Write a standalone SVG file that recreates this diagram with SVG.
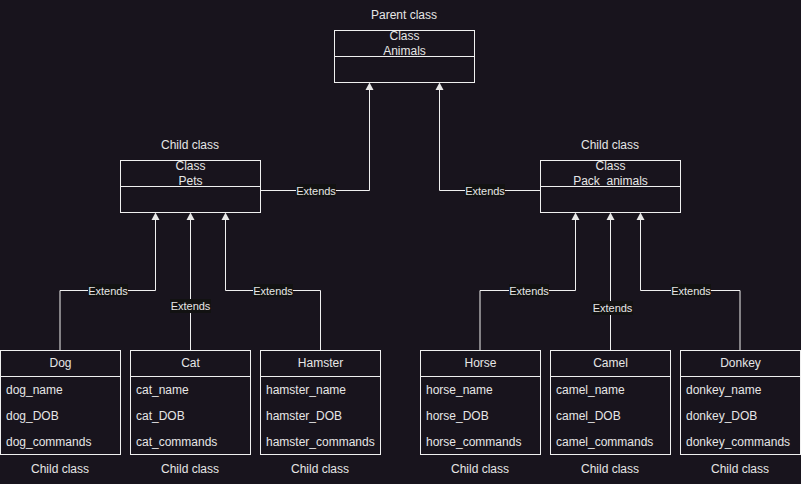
<svg xmlns="http://www.w3.org/2000/svg" width="801" height="484" viewBox="0 0 801 484">
<style>
.bg{fill:#18141d}
.box{fill:#18141d;stroke:#f0f0f0;stroke-width:1}
.t{font-family:"Liberation Sans",Arial,sans-serif;font-size:12px;fill:#e6e6e6}
.c{text-anchor:middle}
.edge{fill:none;stroke:#f0f0f0;stroke-width:1}
.lblbg{fill:#121212}
.lbl{font-family:"Liberation Sans",Arial,sans-serif;font-size:11px;fill:#e6e6e6;text-anchor:middle}
.arr{fill:#e8e8e8}
</style>
<rect class="bg" x="0" y="0" width="801" height="484"/>

<g id="connectors">
<path class="edge" d="M260.5,190.5 H369.5 V90"/>
<path class="arr" d="M365.5,90 L369.5,82.5 L373.5,90 Z"/>
<rect class="lblbg" x="296" y="184" width="40" height="13"/>
<text class="lbl" x="316" y="194.5">Extends</text>

<path class="edge" d="M540.5,190.5 H439.5 V90"/>
<path class="arr" d="M435.5,90 L439.5,82.5 L443.5,90 Z"/>
<rect class="lblbg" x="465" y="184" width="40" height="13"/>
<text class="lbl" x="485" y="194.5">Extends</text>

<path class="edge" d="M60,350 V290.5 H155.5 V220"/>
<path class="arr" d="M151.5,220 L155.5,212.5 L159.5,220 Z"/>
<rect class="lblbg" x="88" y="284" width="40" height="13"/>
<text class="lbl" x="108" y="295">Extends</text>

<path class="edge" d="M190.5,350 V220"/>
<path class="arr" d="M186.5,220 L190.5,212.5 L194.5,220 Z"/>
<rect class="lblbg" x="170" y="299" width="41" height="14"/>
<text class="lbl" x="190.5" y="310">Extends</text>

<path class="edge" d="M320.5,350 V290.5 H225.5 V220"/>
<path class="arr" d="M221.5,220 L225.5,212.5 L229.5,220 Z"/>
<rect class="lblbg" x="253" y="284" width="40" height="13"/>
<text class="lbl" x="273" y="295">Extends</text>

<path class="edge" d="M480,350 V290.5 H575.5 V220"/>
<path class="arr" d="M571.5,220 L575.5,212.5 L579.5,220 Z"/>
<rect class="lblbg" x="509" y="284" width="40" height="13"/>
<text class="lbl" x="529" y="295">Extends</text>

<path class="edge" d="M610.5,350 V220"/>
<path class="arr" d="M606.5,220 L610.5,212.5 L614.5,220 Z"/>
<rect class="lblbg" x="592" y="301" width="41" height="14"/>
<text class="lbl" x="612.5" y="312">Extends</text>

<path class="edge" d="M740,350 V290.5 H640.5 V220"/>
<path class="arr" d="M636.5,220 L640.5,212.5 L644.5,220 Z"/>
<rect class="lblbg" x="671" y="284" width="40" height="13"/>
<text class="lbl" x="691" y="295">Extends</text>
</g>

<g id="animals">
<text class="t c" x="404" y="19">Parent class</text>
<rect class="box" x="334.5" y="30.5" width="140" height="52"/>
<line class="edge" x1="334.5" y1="56.5" x2="474.5" y2="56.5"/>
<text class="t c" x="404.5" y="40">Class</text>
<text class="t c" x="404.5" y="55">Animals</text>
</g>

<g id="pets">
<text class="t c" x="190" y="149">Child class</text>
<rect class="box" x="120.5" y="160.5" width="140" height="52"/>
<line class="edge" x1="120.5" y1="186.5" x2="260.5" y2="186.5"/>
<text class="t c" x="190.5" y="170">Class</text>
<text class="t c" x="190.5" y="185">Pets</text>
</g>

<g id="pack_animals">
<text class="t c" x="610" y="149">Child class</text>
<rect class="box" x="540.5" y="160.5" width="140" height="52"/>
<line class="edge" x1="540.5" y1="186.5" x2="680.5" y2="186.5"/>
<text class="t c" x="610.5" y="170">Class</text>
<text class="t c" x="610.5" y="185">Pack&#160; animals</text>
</g>

<g id="dog">
<rect class="box" x="0.5" y="350.5" width="120" height="104"/>
<line class="edge" x1="0.5" y1="376.5" x2="120.5" y2="376.5"/>
<text class="t c" x="60.5" y="367">Dog</text>
<text class="t" x="6" y="394">dog_name</text>
<text class="t" x="6" y="420">dog_DOB</text>
<text class="t" x="6" y="446">dog_commands</text>
<text class="t c" x="60" y="473">Child class</text>
</g>

<g id="cat">
<rect class="box" x="130.5" y="350.5" width="120" height="104"/>
<line class="edge" x1="130.5" y1="376.5" x2="250.5" y2="376.5"/>
<text class="t c" x="190.5" y="367">Cat</text>
<text class="t" x="136" y="394">cat_name</text>
<text class="t" x="136" y="420">cat_DOB</text>
<text class="t" x="136" y="446">cat_commands</text>
<text class="t c" x="190" y="473">Child class</text>
</g>

<g id="hamster">
<rect class="box" x="260.5" y="350.5" width="120" height="104"/>
<line class="edge" x1="260.5" y1="376.5" x2="380.5" y2="376.5"/>
<text class="t c" x="320.5" y="367">Hamster</text>
<text class="t" x="266" y="394">hamster_name</text>
<text class="t" x="266" y="420">hamster_DOB</text>
<text class="t" x="266" y="446">hamster_commands</text>
<text class="t c" x="320" y="473">Child class</text>
</g>

<g id="horse">
<rect class="box" x="420.5" y="350.5" width="120" height="104"/>
<line class="edge" x1="420.5" y1="376.5" x2="540.5" y2="376.5"/>
<text class="t c" x="480.5" y="367">Horse</text>
<text class="t" x="426" y="394">horse_name</text>
<text class="t" x="426" y="420">horse_DOB</text>
<text class="t" x="426" y="446">horse_commands</text>
<text class="t c" x="480" y="473">Child class</text>
</g>

<g id="camel">
<rect class="box" x="550.5" y="350.5" width="120" height="104"/>
<line class="edge" x1="550.5" y1="376.5" x2="670.5" y2="376.5"/>
<text class="t c" x="610.5" y="367">Camel</text>
<text class="t" x="556" y="394">camel_name</text>
<text class="t" x="556" y="420">camel_DOB</text>
<text class="t" x="556" y="446">camel_commands</text>
<text class="t c" x="610" y="473">Child class</text>
</g>

<g id="donkey">
<rect class="box" x="680.5" y="350.5" width="120" height="104"/>
<line class="edge" x1="680.5" y1="376.5" x2="800.5" y2="376.5"/>
<text class="t c" x="740.5" y="367">Donkey</text>
<text class="t" x="686" y="394">donkey_name</text>
<text class="t" x="686" y="420">donkey_DOB</text>
<text class="t" x="686" y="446">donkey_commands</text>
<text class="t c" x="740" y="473">Child class</text>
</g>
</svg>
